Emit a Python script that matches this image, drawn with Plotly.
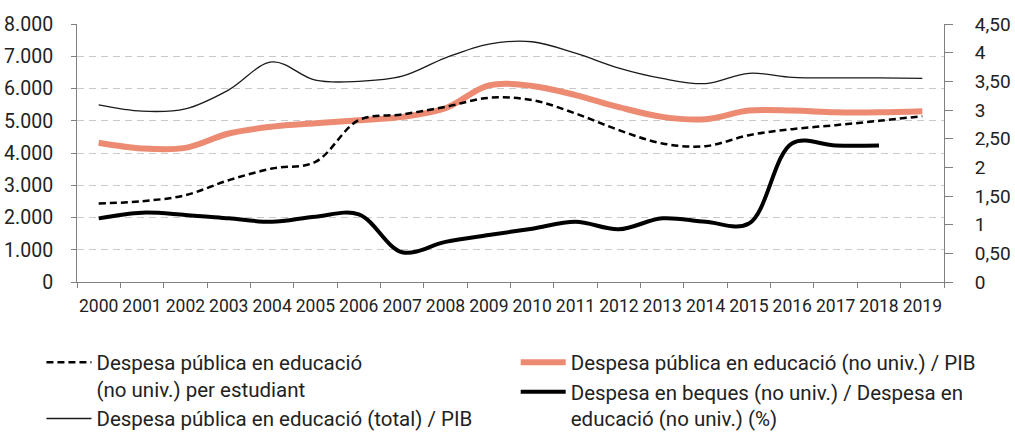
import plotly.graph_objects as go

years = [str(y) for y in range(2000, 2020)]

# Despesa pública en educació (no univ.) per estudiant (euros, left axis)
per_estudiant = [2434, 2505, 2691, 3157, 3520, 3725, 5019, 5196, 5432, 5711,
                 5640, 5227, 4709, 4296, 4212, 4553, 4740, 4864, 4998, 5143]
# Despesa pública en educació (total) / PIB (right axis)
total_pib = [3.09, 2.98, 3.02, 3.35, 3.84, 3.52, 3.50, 3.59, 3.91, 4.15,
             4.19, 3.99, 3.73, 3.55, 3.46, 3.64, 3.57, 3.56, 3.56, 3.55]
# Despesa pública en educació (no univ.) / PIB (right axis)
nouniv_pib = [2.43, 2.33, 2.34, 2.59, 2.71, 2.77, 2.82, 2.88, 3.03, 3.43,
              3.42, 3.26, 3.05, 2.88, 2.84, 2.99, 2.99, 2.96, 2.96, 2.98]
# Despesa en beques (no univ.) / Despesa en educació (no univ.) (%) (right axis)
beques = [1.11, 1.21, 1.17, 1.11, 1.05, 1.14, 1.18, 0.52, 0.70, 0.82,
          0.93, 1.05, 0.92, 1.11, 1.05, 1.02, 2.42, 2.38, 2.38, None]

left_ticks = [0, 1000, 2000, 3000, 4000, 5000, 6000, 7000, 8000]
left_text = ["0", "1.000", "2.000", "3.000", "4.000", "5.000", "6.000", "7.000", "8.000"]
right_ticks = [0, 0.5, 1, 1.5, 2, 2.5, 3, 3.5, 4, 4.5]
right_text = ["0", "0,50", "1", "1,50", "2", "2,50", "3", "3,50", "4", "4,50"]

FONT = "Roboto"
TXT = "#222222"
AX = "#808080"

fig = go.Figure()

fig.add_trace(go.Scatter(
    x=years, y=total_pib, yaxis="y", mode="lines",
    line=dict(color="#1a1a1a", width=1.3, shape="spline", smoothing=1),
    name="Despesa pública en educació (total) / PIB",
    legend="legend", legendrank=2))
fig.add_trace(go.Scatter(
    x=years, y=nouniv_pib, yaxis="y", mode="lines",
    line=dict(color="#ec8a72", width=6, shape="spline", smoothing=1),
    name="Despesa pública en educació (no univ.) / PIB",
    legend="legend2", legendrank=1))
fig.add_trace(go.Scatter(
    x=years, y=beques, yaxis="y", mode="lines",
    line=dict(color="#000000", width=4, shape="spline", smoothing=1),
    name="Despesa en beques (no univ.) / Despesa en<br>educació (no univ.) (%)",
    legend="legend2", legendrank=2))
fig.add_trace(go.Scatter(
    x=years, y=per_estudiant, yaxis="y2", mode="lines",
    line=dict(color="#000000", width=2.5, dash="7px,4px", shape="spline", smoothing=1),
    name="Despesa pública en educació<br>(no univ.) per estudiant",
    legend="legend", legendrank=1))

fig.update_layout(
    width=1015, height=432,
    margin=dict(l=77, r=71, t=24, b=150, autoexpand=False),
    paper_bgcolor="white", plot_bgcolor="white",
    font=dict(family=FONT, size=17, color=TXT),
    xaxis=dict(type="category", range=[-0.5, 19.5], tickson="boundaries",
               ticks="outside", ticklen=5, tickcolor=AX, showline=True,
               linecolor=AX, linewidth=1, showgrid=False, tickangle=0,
               automargin=False,
               tickfont=dict(family=FONT, size=17.5, color=TXT), ticklabelstandoff=8),
    yaxis=dict(side="right", range=[0, 4.5], tickvals=right_ticks, ticktext=right_text,
               showgrid=False, zeroline=False, showline=True, linecolor=AX,
               ticks="outside", ticklen=8, tickcolor=AX, automargin=False,
               tickfont=dict(family=FONT, size=19, color=TXT), ticklabelstandoff=18),
    yaxis2=dict(side="left", overlaying="y", range=[0, 8000], tickvals=left_ticks,
                ticktext=left_text, showgrid=True, gridcolor="#c9c9c9",
                griddash="7px,5px", gridwidth=1, zeroline=False, showline=True,
                linecolor=AX, ticks="outside", ticklen=5, tickcolor=AX,
                automargin=False,
                tickfont=dict(family=FONT, size=19.5, color=TXT), ticklabelstandoff=14),
    legend=dict(x=-0.041, xanchor="left", y=-0.234, yanchor="top", valign="top",
                bgcolor="rgba(0,0,0,0)", font=dict(family=FONT, size=20.5, color=TXT),
                tracegroupgap=0, itemwidth=45),
    legend2=dict(x=0.506, xanchor="left", y=-0.234, yanchor="top", valign="top",
                 bgcolor="rgba(0,0,0,0)", font=dict(family=FONT, size=20.5, color=TXT),
                 tracegroupgap=0, itemwidth=45),
    showlegend=True,
)

fig.write_html("out.html", post_script="document.body.style.margin='0';",
               config={"displayModeBar": False})
